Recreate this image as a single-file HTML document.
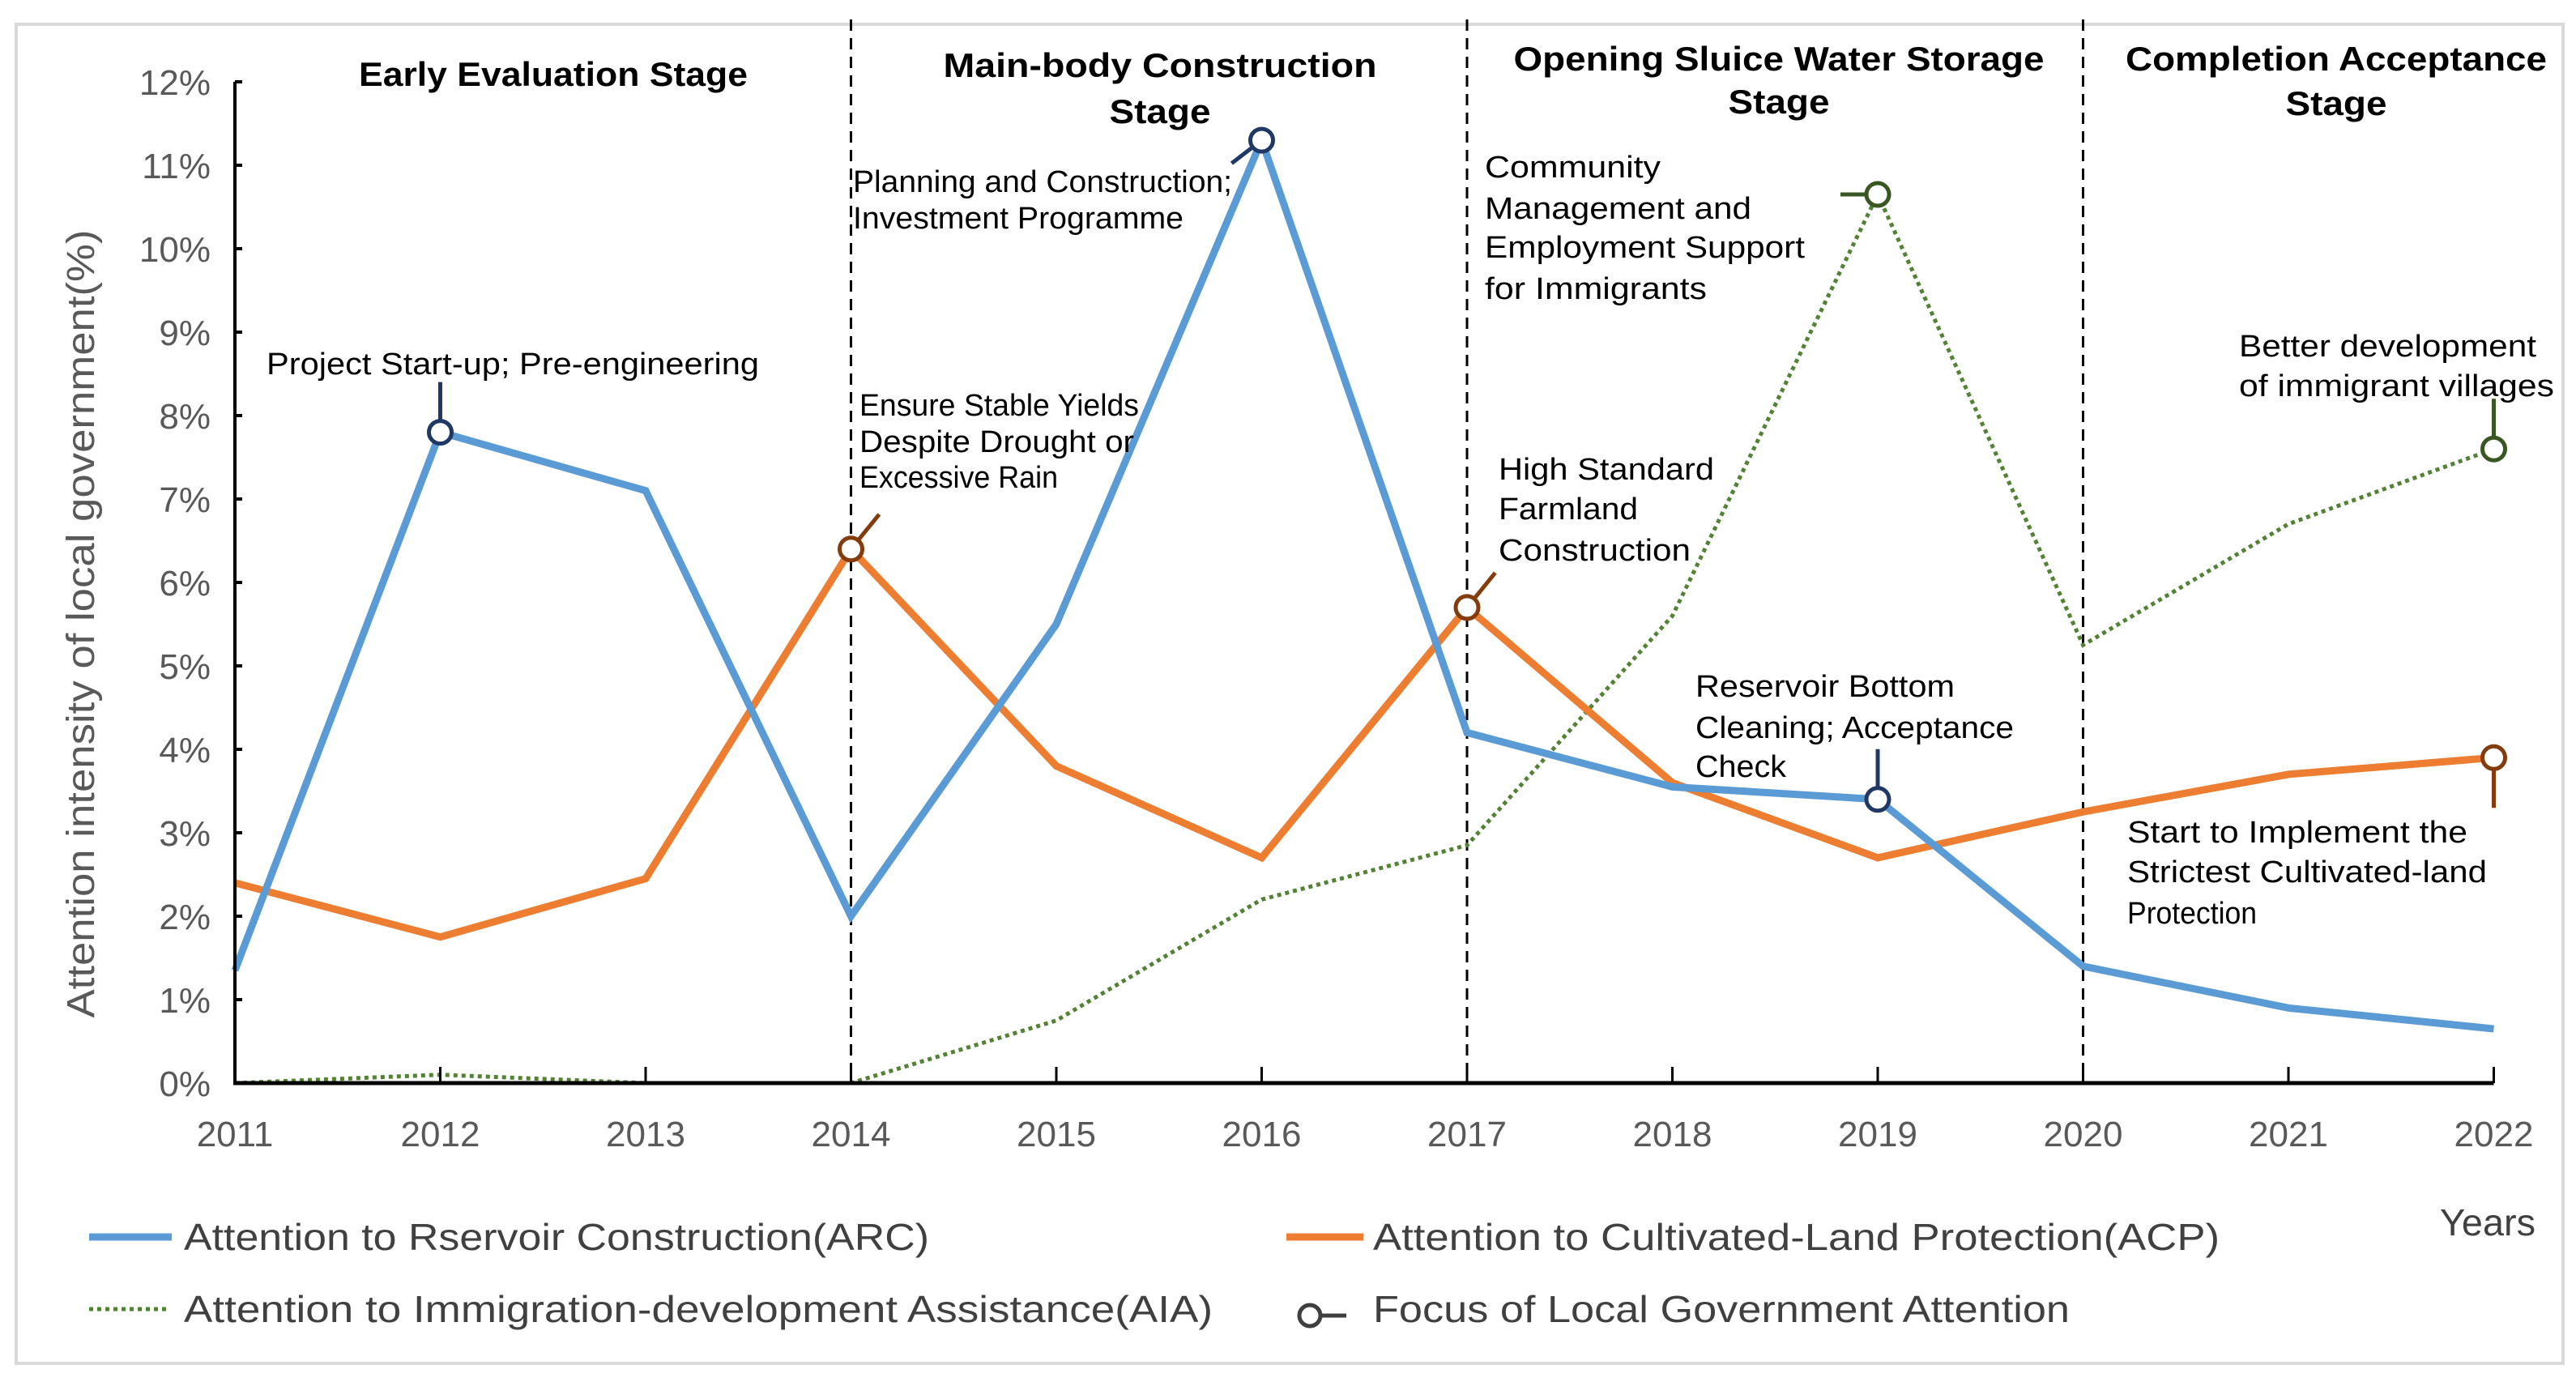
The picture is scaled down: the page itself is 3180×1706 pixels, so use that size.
<!DOCTYPE html>
<html><head><meta charset="utf-8"><style>
html,body{margin:0;padding:0;background:#fff;}
svg{display:block;font-family:"Liberation Sans",sans-serif;}
</style></head><body>
<svg id="chart" width="3180" height="1706" viewBox="0 0 3180 1706" xmlns="http://www.w3.org/2000/svg">
<rect x="20" y="30" width="3144" height="1653" fill="#fff" stroke="#d9d9d9" stroke-width="4"/>
<g id="grid"></g>
<g id="series"></g>
<g id="axes"></g>
<g id="notes"></g>
<g font-size="46" fill="#404040">
 <line x1="110" y1="1527" x2="212" y2="1527" stroke="#5b9bd5" stroke-width="9"/>
 <text x="227" y="1543" textLength="920" lengthAdjust="spacingAndGlyphs">Attention to Rservoir Construction(ARC)</text>
 <line x1="1588" y1="1527" x2="1683" y2="1527" stroke="#ed7d31" stroke-width="9"/>
 <text x="1695" y="1543" textLength="1045" lengthAdjust="spacingAndGlyphs">Attention to Cultivated-Land Protection(ACP)</text>
 <line x1="110" y1="1616" x2="205" y2="1616" stroke="#548235" stroke-width="5" stroke-dasharray="5 5"/>
 <text x="227" y="1632" textLength="1270" lengthAdjust="spacingAndGlyphs">Attention to Immigration-development Assistance(AIA)</text>
 <circle cx="1617" cy="1624" r="13" fill="#fff" stroke="#404040" stroke-width="5"/>
 <line x1="1630" y1="1624" x2="1662" y2="1624" stroke="#404040" stroke-width="5"/>
 <text x="1695" y="1632" textLength="860" lengthAdjust="spacingAndGlyphs">Focus of Local Government Attention</text>
 <text x="3012" y="1525" textLength="118" lengthAdjust="spacingAndGlyphs">Years</text>
</g>
<text transform="translate(116,770) rotate(-90)" text-anchor="middle" font-size="48" fill="#595959" textLength="973" lengthAdjust="spacingAndGlyphs">Attention intensity of local government(%)</text>
</svg>
<script>
const years = ["2011","2012","2013","2014","2015","2016","2017","2018","2019","2020","2021","2022"];
const arcValues = [1.35,7.8,7.1,2.0,5.5,11.3,4.2,3.55,3.4,1.4,0.9,0.65];
const acpValues = [2.4,1.75,2.45,6.4,3.8,2.7,5.7,3.6,2.7,3.25,3.7,3.9];
const aiaValues = [0,0.1,0,0,0.75,2.2,2.85,5.6,10.65,5.25,6.7,7.6];
const yTicks = [0,1,2,3,4,5,6,7,8,9,10,11,12];
const stageBoundaries = [3,6,9];

const NS="http://www.w3.org/2000/svg";
const X0=290, XSTEP=253.5, Y0=1337, YUNIT=103;
const xs=i=>X0+i*XSTEP;
const ys=v=>Y0-v*YUNIT;
function mk(tag,attrs,parent,text){const e=document.createElementNS(NS,tag);for(const k in attrs)e.setAttribute(k,attrs[k]);if(text!==undefined)e.textContent=text;parent.appendChild(e);return e;}
const grid=document.getElementById('grid'),series=document.getElementById('series'),axes=document.getElementById('axes'),notes=document.getElementById('notes');

stageBoundaries.forEach(i=>{
 const l=mk('line',{x1:xs(i),x2:xs(i),y1:24,y2:Y0,stroke:'#000','stroke-width':3,'stroke-dasharray':'14 9'},grid);
 
 
});

function drawLine(vals,color,w,dash,name){
 const p=mk('polyline',{points:vals.map((v,i)=>xs(i)+','+ys(v)).join(' '),fill:'none',stroke:color,'stroke-width':w,'stroke-linejoin':'miter'},series);
 if(dash)p.setAttribute('stroke-dasharray',dash);
 
 
}
drawLine(aiaValues,'#548235',5,'5 5','aia-line');
drawLine(acpValues,'#ed7d31',9,null,'acp-line');
drawLine(arcValues,'#5b9bd5',9,null,'arc-line');

const ya=mk('line',{x1:X0,x2:X0,y1:ys(12),y2:Y0,stroke:'#000','stroke-width':4},axes);


const xa=mk('line',{x1:X0-2,x2:xs(11),y1:Y0,y2:Y0,stroke:'#000','stroke-width':5},axes);


yTicks.forEach(t=>{
 mk('line',{x1:X0,x2:X0+9,y1:ys(t),y2:ys(t),stroke:'#000','stroke-width':4},axes);
 const tx=mk('text',{x:X0-30,y:ys(t)+16,'text-anchor':'end','font-size':44,fill:'#595959'},axes,t+'%');
 
 
});
years.forEach((y,i)=>{
 if(i>0) mk('line',{x1:xs(i),x2:xs(i),y1:Y0,y2:Y0-20,stroke:'#000','stroke-width':3},axes);
 const tx=mk('text',{x:xs(i),y:1415,'text-anchor':'middle','font-size':44,fill:'#595959'},axes,y);
 
 
});

const stages=[[683,[106],['Early Evaluation Stage'],[480]],[1432,[95,152],['Main-body Construction','Stage'],[535,125]],[2196,[87,140],['Opening Sluice Water Storage','Stage'],[655,125]],[2884,[87,142],['Completion Acceptance','Stage'],[520,125]]];
stages.forEach((s,k)=>{
 s[2].forEach((t,j)=>{
  const tx=mk('text',{x:s[0],y:s[1][j],'text-anchor':'middle','font-size':42,'font-weight':'bold',fill:'#000',textLength:s[3][j],lengthAdjust:'spacingAndGlyphs'},notes,t);
  
  
 });
});

const focus=[[arcValues,1,0,-48,'#1f3864','focus-arc-2012'],[arcValues,5,-26,20,'#1f3864','focus-arc-2016'],[acpValues,3,26,-32,'#843c0c','focus-acp-2014'],[aiaValues,8,-32,0,'#385723','focus-aia-2019'],[acpValues,6,26,-32,'#843c0c','focus-acp-2017'],[arcValues,8,0,-48,'#1f3864','focus-arc-2019'],[aiaValues,11,0,-48,'#385723','focus-aia-2022'],[acpValues,11,0,48,'#843c0c','focus-acp-2022']];
focus.forEach(f=>{
 const cx=xs(f[1]),cy=ys(f[0][f[1]]);
 const len=Math.hypot(f[2],f[3]);
 mk('line',{x1:cx+f[2]/len*14,y1:cy+f[3]/len*14,x2:cx+f[2]/len*14+f[2],y2:cy+f[3]/len*14+f[3],stroke:f[4],'stroke-width':5},notes);
 const c=mk('circle',{cx:cx,cy:cy,r:14,fill:'#fff',stroke:f[4],'stroke-width':5},notes);
 
 
});

const ann=[[329,[462],['Project Start-up; Pre-engineering'],[608],'note-project-startup'],
[1053,[237,282],['Planning and Construction;','Investment Programme'],[468,408],'note-planning'],
[1061,[513,558,602],['Ensure Stable Yields','Despite Drought or','Excessive Rain'],[345,339,245],'note-stable-yields'],
[1833,[219,270,318,369],['Community','Management and','Employment Support','for Immigrants'],[217,329,395,274],'note-community'],
[1850,[592,641,692],['High Standard','Farmland','Construction'],[266,172,237],'note-farmland'],
[2093,[860,911,959],['Reservoir Bottom','Cleaning; Acceptance','Check'],[320,393,112],'note-reservoir-cleaning'],
[2764,[440,489],['Better development','of immigrant villages'],[367,389],'note-immigrant-villages'],
[2626,[1040,1089,1140],['Start to Implement the','Strictest Cultivated-land','Protection'],[420,444,160],'note-strictest-protection']];
ann.forEach(a=>{
 a[2].forEach((t,j)=>{
  const tx=mk('text',{x:a[0],y:a[1][j],'font-size':38,fill:'#000',textLength:a[3][j],lengthAdjust:'spacingAndGlyphs'},notes,t);
  
  
 });
});
</script>
</body></html>
